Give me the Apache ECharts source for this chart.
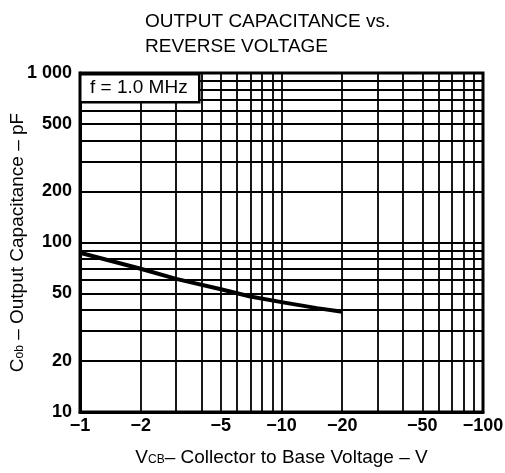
<!DOCTYPE html>
<html>
<head>
<meta charset="utf-8">
<script src="https://cdn.jsdelivr.net/npm/echarts@6/dist/echarts.min.js"></script>
<style>
  html, body { margin: 0; padding: 0; background: #fff; }
  #chart { width: 505px; height: 473px; }
</style>
</head>
<body>
<div id="chart"></div>
<script>
// Cob vs VCB (f = 1.0 MHz)
const vcb = [-1, -2, -3, -5, -7, -10, -15, -20];
const cob = [87, 70, 61, 53, 48, 44.5, 41, 39];

const xLabelValues = [1, 2, 5, 10, 20, 50, 100];
const yLabelValues = [10, 20, 50, 100, 200, 500, 1000];
const xGridValues = [1, 2, 3, 4, 5, 6, 7, 8, 9, 10, 20, 30, 40, 50, 60, 70, 80, 90, 100];
const yGridValues = [10, 20, 30, 40, 50, 60, 70, 80, 90, 100, 200, 300, 400, 500, 600, 700, 800, 900, 1000];

const font = '"Liberation Sans", Arial, sans-serif';

const chart = echarts.init(document.getElementById('chart'));

chart.setOption({
    animation: false,
    backgroundColor: '#fff',
    title: {
        text: 'OUTPUT CAPACITANCE vs.\nREVERSE VOLTAGE',
        left: 140,
        top: 4,
        textStyle: { fontFamily: font, fontSize: 19, fontWeight: 'normal', color: '#000', lineHeight: 25 }
    },
    grid: {
        left: 80, right: 22, top: 73, bottom: 61,
        containLabel: false,
        outerBoundsMode: 'none',
        show: true, borderColor: '#000', borderWidth: 3
    },
    xAxis: {
        type: 'log',
        logBase: 10,
        min: 1,
        max: 100,
        name: '{v|V}{s|CB}{t|– Collector to Base Voltage – V}',
        nameLocation: 'middle',
        nameGap: 36,
        nameMoveOverlap: false,
        nameTextStyle: {
            rich: {
                v: { fontFamily: font, fontSize: 19, color: '#000' },
                s: { fontFamily: font, fontSize: 12, color: '#000', padding: [5, 0, 0, 0] },
                t: { fontFamily: font, fontSize: 19, color: '#000' }
            }
        },
        axisLine: { lineStyle: { color: '#000', width: 3 } },
        axisTick: { show: false, customValues: xGridValues },
        axisLabel: {
            customValues: xLabelValues,
            margin: 5,
            fontFamily: font, fontSize: 18, fontWeight: 'bold', color: '#000',
            formatter: v => '−' + v
        },
        splitLine: { show: true, lineStyle: { color: '#000', width: 1.8 } }
    },
    yAxis: {
        type: 'log',
        logBase: 10,
        min: 10,
        max: 1000,
        name: '{c|C}{s|ob}{t| – Output Capacitance – pF}',
        nameLocation: 'middle',
        nameGap: 53,
        nameMoveOverlap: false,
        nameTextStyle: {
            rich: {
                c: { fontFamily: font, fontSize: 19, color: '#000' },
                s: { fontFamily: font, fontSize: 12, color: '#000', padding: [5, 0, 0, 0] },
                t: { fontFamily: font, fontSize: 19, color: '#000' }
            }
        },
        axisLine: { lineStyle: { color: '#000', width: 3 } },
        axisTick: { show: false, customValues: yGridValues },
        axisLabel: {
            customValues: yLabelValues,
            margin: 8,
            fontFamily: font, fontSize: 18, fontWeight: 'bold', color: '#000',
            formatter: v => (v === 1000 ? '1 000' : String(v))
        },
        splitLine: { show: true, lineStyle: { color: '#000', width: 1.8 } }
    },
    graphic: [{
        type: 'rect',
        left: 79,
        top: 73,
        z: 100,
        shape: { x: 0, y: 0, width: 119, height: 28 },
        style: { fill: '#fff', stroke: '#000', lineWidth: 2.5 }
    }, {
        type: 'text',
        left: 90,
        top: 78,
        z: 101,
        style: { text: 'f = 1.0 MHz', font: '19px ' + font, fill: '#000' }
    }],
    series: [{
        type: 'line',
        data: vcb.map((v, i) => [Math.abs(v), cob[i]]),
        showSymbol: false,
        lineStyle: { color: '#000', width: 4 },
        z: 10
    }]
});
</script>
</body>
</html>
